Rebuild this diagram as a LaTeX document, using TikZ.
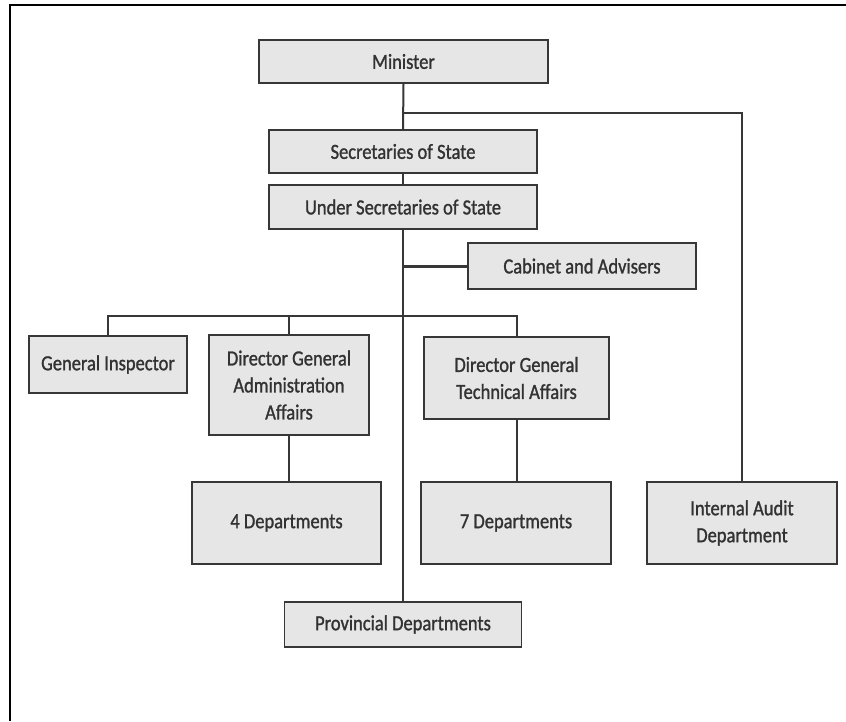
\documentclass[tikz,border=0pt]{standalone}
\usepackage{fontspec}
\setmainfont{Carlito}
\newfontfamily\boxfont{Carlito}[FakeBold=1.2, FakeStretch=0.86]
\definecolor{boxfill}{RGB}{230,230,230}
\definecolor{ink}{RGB}{55,55,55}
\definecolor{txt}{RGB}{50,50,50}
\begin{document}
\begin{tikzpicture}[x=1pt,y=-1pt,
  unit/.style={draw=ink, line width=1.8pt, fill=boxfill, inner sep=0pt,
    align=center, text=txt, font=\boxfont\fontsize{21.5}{27}\selectfont},
  link/.style={draw=ink, line width=2pt},
  frameline/.style={draw=black, line width=2.2pt}]
\useasboundingbox (0,0) rectangle (846,721);
\fill[white] (0,0) rectangle (846,721);
% page frame (left and top edges)
\draw[frameline] (10,721) -- (10,5) -- (846,5);

% boxes
\node[unit, minimum width=289pt, minimum height=43pt] (min)  at (403.5,61.5) {Minister};
\node[unit, minimum width=268pt, minimum height=43pt] (sec)  at (403,151.5) {Secretaries of State};
\node[unit, minimum width=268pt, minimum height=44pt] (usec) at (403,207) {Under Secretaries of State};
\node[unit, minimum width=228pt, minimum height=46pt] (cab)  at (582,266) {Cabinet and Advisers};
\node[unit, minimum width=158pt, minimum height=57pt] (gi)   at (108,364.5) {General Inspector};
\node[unit, minimum width=160pt, minimum height=100pt] (dga) at (289,385) {Director General\\Administration\\Affairs};
\node[unit, minimum width=185pt, minimum height=82pt] (dgt)  at (516.5,378) {Director General\\Technical Affairs};
\node[unit, minimum width=189pt, minimum height=82pt] (d4)   at (286.5,523) {4 Departments};
\node[unit, minimum width=190pt, minimum height=82pt] (d7)   at (516,523) {7 Departments};
\node[unit, minimum width=190pt, minimum height=82pt] (audit) at (742,523) {Internal Audit\\Department};
\node[unit, minimum width=237pt, minimum height=45pt] (prov) at (403,624.5) {Provincial Departments};

% connectors
\coordinate (iaturn) at (742,113);
\coordinate (bus) at (108,316);
\draw[link] (min.south) -- (sec.north);
\draw[link] (sec.south) -- (usec.north);
\draw[link] (usec.south) -- (prov.north);
\draw[link] (min.south |- iaturn) -- (iaturn) -- (audit.north);
\draw[link, line width=3pt] (cab.west) -- (cab.west -| usec.south);
\draw[link] (gi.north) -- (gi.north |- bus) -- (dgt.north |- bus) -- (dgt.north);
\draw[link] (dga.north) -- (dga.north |- bus);
\draw[link] (dga.south) -- (dga.south |- d4.north);
\draw[link] (dgt.south) -- (dgt.south |- d7.north);
\end{tikzpicture}
\end{document}
